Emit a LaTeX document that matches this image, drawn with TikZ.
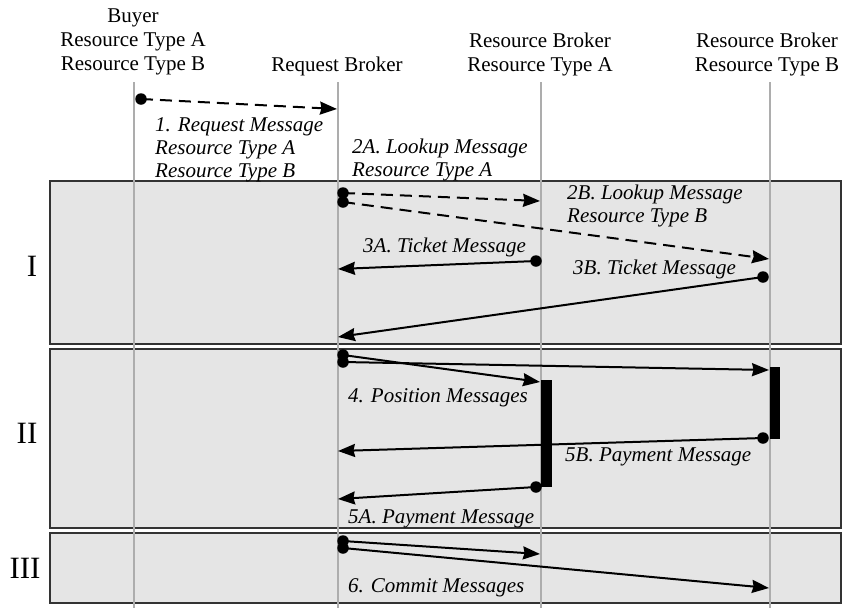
\documentclass[tikz,border=0pt]{standalone}
\usepackage{fontspec}
\setmainfont{Liberation Serif}
\usetikzlibrary{arrows.meta}

\begin{document}
\begin{tikzpicture}[x=1pt, y=-1pt,
		head/.style={anchor=north, align=center, inner sep=0pt, font=\fontsize{21}{24}\selectfont},
		lbl/.style={anchor=north west, align=left, inner sep=0pt, font=\fontsize{21}{23}\selectfont\itshape},
		phase/.style={draw=black!80, line width=1.3pt, fill=black!10},
		phaselbl/.style={inner sep=0pt, font=\fontsize{31}{31}\selectfont},
		life/.style={draw=black!32, line width=2pt},
		dot/.style={circle, fill=black, inner sep=0pt, minimum size=11.5pt},
		msg/.style={line width=2pt, -{Stealth[length=17pt, width=13pt, inset=1.5pt]}},
		lookup/.style={msg, dash pattern=on 12pt off 7pt},
		act/.style={fill=black}]
	\useasboundingbox (0,0) rectangle (842,608);
	
	\draw[phase] (50,181) rectangle (841,344);
	\draw[phase] (50,349) rectangle (841,528);
	\draw[phase] (50,533) rectangle (841,603);
	\node[phaselbl] (ph1) at (32,266) {I};
	\node[phaselbl] (ph2) at (27,433) {II};
	\node[phaselbl] (ph3) at (25,568) {III};
	
	\node[head] (buyer) at (133,9) {Buyer\\Resource Type A\\Resource Type B};
	\node[head] (rq) at (337,57) {Request Broker};
	\node[head] (rbA) at (540,33) {Resource Broker\\Resource Type A};
	\node[head] (rbB) at (767,33) {Resource Broker\\Resource Type B};
	
	\coordinate (buyer_t) at (134,82);
	\coordinate (buyer_b) at (134,608);
	\coordinate (rq_t) at (338,82);
	\coordinate (rq_b) at (338,608);
	\coordinate (rbA_t) at (541,82);
	\coordinate (rbA_b) at (541,608);
	\coordinate (rbB_t) at (770,82);
	\coordinate (rbB_b) at (770,608);
	\draw[life] (buyer_t) -- (buyer_b);
	\draw[life] (rq_t) -- (rq_b);
	\draw[life] (rbA_t) -- (rbA_b);
	\draw[life] (rbB_t) -- (rbB_b);
	
	\fill[act] (541,380) rectangle (552,487);
	\fill[act] (770,367) rectangle (780,439);
	
	\node[dot] (d_1) at (141,99) {};
	\node[dot] (d_2a) at (343,193) {};
	\node[dot] (d_2b) at (343,202) {};
	\node[dot] (d_3a) at (536,261) {};
	\node[dot] (d_3b) at (763,277) {};
	\node[dot] (d_4a) at (343,355) {};
	\node[dot] (d_4b) at (343,362) {};
	\node[dot] (d_5b) at (763,438) {};
	\node[dot] (d_5a) at (536,487) {};
	\node[dot] (d_6a) at (343,541) {};
	\node[dot] (d_6b) at (343,548) {};
	
	\coordinate (e_1) at (337,109);
	\coordinate (e_2a) at (540,201);
	\coordinate (e_2b) at (769,259);
	\coordinate (e_3a) at (338,269);
	\coordinate (e_3b) at (338,337);
	\coordinate (e_4a) at (540,382);
	\coordinate (e_4b) at (769,370);
	\coordinate (e_5b) at (338,451);
	\coordinate (e_5a) at (338,499);
	\coordinate (e_6a) at (540,554);
	\coordinate (e_6b) at (769,588);
	
	\draw[lookup] (d_1.center) -- (e_1);
	\draw[lookup] (d_2a.center) -- (e_2a);
	\draw[lookup] (d_2b.center) -- (e_2b);
	\draw[msg] (d_3a.center) -- (e_3a);
	\draw[msg] (d_3b.center) -- (e_3b);
	\draw[msg] (d_4a.center) -- (e_4a);
	\draw[msg] (d_4b.center) -- (e_4b);
	\draw[msg] (d_5b.center) -- (e_5b);
	\draw[msg] (d_5a.center) -- (e_5a);
	\draw[msg] (d_6a.center) -- (e_6a);
	\draw[msg] (d_6b.center) -- (e_6b);
	
	\node[lbl] (l_1) at (155,117) {1. Request Message\\Resource Type A\\Resource Type B};
	\node[lbl] (l_2a) at (352,139) {2A. Lookup Message\\Resource Type A};
	\node[lbl] (l_2b) at (567,185) {2B. Lookup Message\\Resource Type B};
	\node[lbl] (l_3a) at (363,238) {3A. Ticket Message};
	\node[lbl] (l_3b) at (573,260) {3B. Ticket Message};
	\node[lbl] (l_4) at (348,388) {4. Position Messages};
	\node[lbl] (l_5b) at (565,448) {5B. Payment Message};
	\node[lbl] (l_5a) at (348,509) {5A. Payment Message};
	\node[lbl] (l_6) at (348,578) {6. Commit Messages};
\end{tikzpicture}
\end{document}
